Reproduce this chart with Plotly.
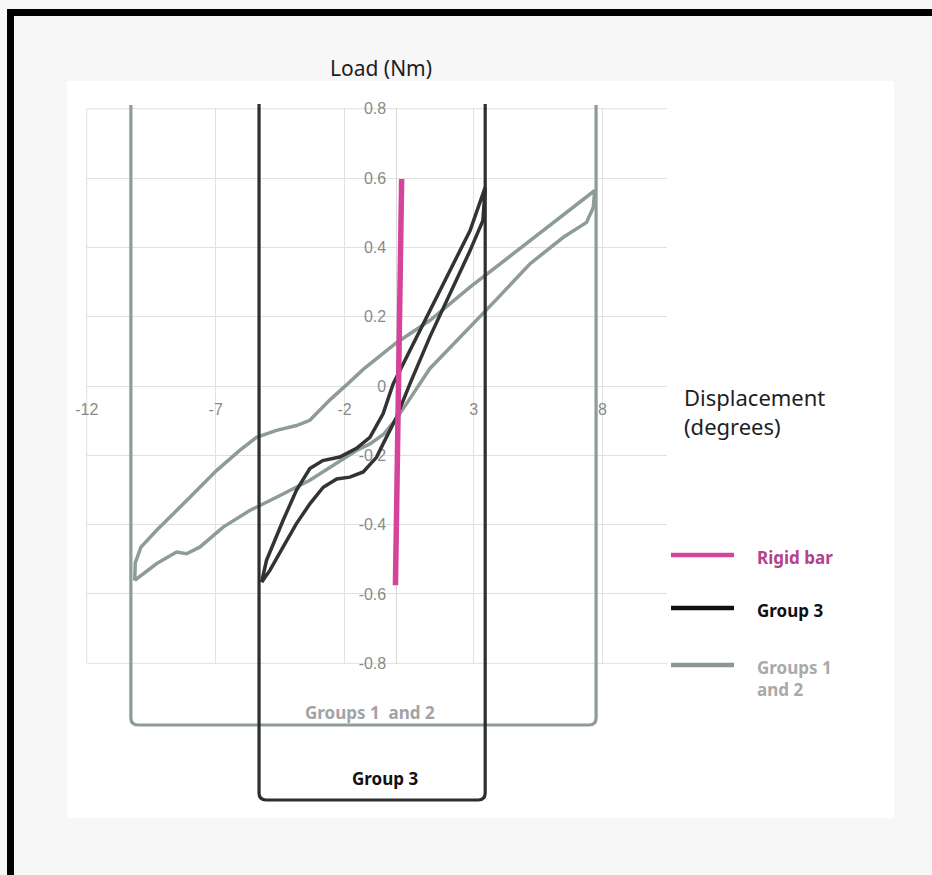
import plotly.graph_objects as go

# ---- data -------------------------------------------------------------
# Groups 1 and 2 hysteresis loop (displacement in degrees, load in Nm)
g12_up_x = [-10.14, -10.12, -9.90, -9.30, -8.00, -6.97, -6.07, -5.42, -4.64, -3.87,
            -3.35, -2.57, -1.80, -1.28, 0.01, 1.30, 2.86, 4.54, 6.22, 7.64, 7.70]
g12_up_y = [-0.561, -0.510, -0.465, -0.417, -0.321, -0.244, -0.186, -0.148, -0.128, -0.114,
            -0.099, -0.040, 0.012, 0.048, 0.125, 0.189, 0.285, 0.381, 0.477, 0.559, 0.564]
g12_dn_x = [7.70, 7.64, 7.38, 6.48, 5.18, 3.89, 2.60, 1.30, 0.50, 0.00, -0.50, -1.02,
            -1.54, -2.57, -3.35, -4.64, -5.68, -6.71, -7.62, -8.13, -8.52, -9.30, -10.14]
g12_dn_y = [0.564, 0.515, 0.472, 0.429, 0.352, 0.250, 0.150, 0.050, -0.040, -0.095, -0.140, -0.167,
            -0.186, -0.234, -0.272, -0.321, -0.359, -0.407, -0.465, -0.484, -0.479, -0.513, -0.561]

# Group 3 hysteresis loop
g3_up_x = [-5.22, -5.03, -4.39, -3.87, -3.35, -2.85, -2.19, -1.54, -1.02, -0.51,
           -0.12, 0.40, 1.30, 2.08, 2.86, 3.45]
g3_up_y = [-0.566, -0.503, -0.388, -0.301, -0.238, -0.215, -0.205, -0.180, -0.148, -0.080,
           0.006, 0.083, 0.218, 0.333, 0.448, 0.573]
g3_dn_x = [3.45, 3.40, 3.36, 2.86, 2.08, 1.30, 0.53, 0.01, -0.51, -0.76, -1.28, -1.80,
           -2.31, -2.83, -3.35, -3.87, -4.39, -4.90, -5.22]
g3_dn_y = [0.573, 0.520, 0.477, 0.390, 0.266, 0.141, 0.006, -0.090, -0.167, -0.205, -0.248, -0.263,
           -0.268, -0.292, -0.340, -0.397, -0.465, -0.532, -0.566]

# Rigid bar
rigid_x = [-0.03, 0.05, 0.09, 0.15, 0.21]
rigid_y = [-0.575, -0.20, 0.00, 0.30, 0.597]

series_names = ["Groups 1 and 2", "Group 3", "Rigid bar"]
series_colors = ["#8d9c96", "#333333", "#d6439b"]
series_widths = [3.5, 3.5, 5.5]

legend_labels = ["Rigid bar", "Group 3", "Groups 1<br>and 2"]
legend_colors = ["#d6439b", "#111111", "#8d9890"]
legend_text_colors = ["#b3428a", "#111111", "#a9a9a9"]

x_ticks = [-12, -7, -2, 3, 8]
y_ticks = [-0.8, -0.6, -0.4, -0.2, 0, 0.2, 0.4, 0.6, 0.8]
y_tick_text = ["-0.8", "-0.6", "-0.4", "-0.2", "0", "0.2", "0.4", "0.6", "0.8"]

X_RANGE = [-12.03, 10.5]
Y_RANGE = [-0.802, 0.802]

# ---- page geometry ------------------------------------------------------
W, H = 932, 875
L, R, T, B = 86, 265, 108, 211
PW, PH = W - L - R, H - T - B


def px_x(p):
    return (p - L) / PW


def px_y(p):
    return (H - B - p) / PH


def data_x(v):
    return (v - X_RANGE[0]) / (X_RANGE[1] - X_RANGE[0])


def data_y(v):
    return (v - Y_RANGE[0]) / (Y_RANGE[1] - Y_RANGE[0])


fig = go.Figure()

loops = [
    (g12_up_x + g12_dn_x[1:], g12_up_y + g12_dn_y[1:]),
    (g3_up_x + g3_dn_x[1:], g3_up_y + g3_dn_y[1:]),
    (rigid_x, rigid_y),
]
for (xs, ys), name, col, w in zip(loops, series_names, series_colors, series_widths):
    fig.add_trace(go.Scatter(x=xs, y=ys, mode="lines", name=name,
                             line=dict(color=col, width=w), showlegend=False))

grid = "#e0e0e0"
shapes = []
# light page with the white chart card and a heavy frame on top/left
shapes.append(dict(type="rect", xref="paper", yref="paper",
                   x0=px_x(67), x1=px_x(894), y0=px_y(818), y1=px_y(81),
                   fillcolor="white", line=dict(width=0), layer="below"))
shapes.append(dict(type="rect", xref="paper", yref="paper",
                   x0=px_x(10.5), x1=px_x(1200), y0=px_y(1200), y1=px_y(12.5),
                   fillcolor="rgba(0,0,0,0)", line=dict(color="black", width=7)))

# outermost grid lines at the ends of the tick ranges
for yv in (min(y_ticks), max(y_ticks)):
    shapes.append(dict(type="line", xref="paper", yref="y", x0=data_x(x_ticks[0]), x1=1,
                       y0=yv, y1=yv, line=dict(color=grid, width=1), layer="below"))
shapes.append(dict(type="line", xref="x", yref="paper", x0=x_ticks[0], x1=x_ticks[0],
                   y0=data_y(min(y_ticks)), y1=data_y(max(y_ticks)),
                   line=dict(color=grid, width=1), layer="below"))


def bracket(x0, x1, top_px, bot_px, color, rad=7):
    a, b = data_x(x0), data_x(x1)
    top, bot = px_y(top_px), px_y(bot_px)
    rx, ry = rad / PW, rad / PH
    path = (f"M {a},{top} L {a},{bot + ry} Q {a},{bot} {a + rx},{bot} "
            f"L {b - rx},{bot} Q {b},{bot} {b},{bot + ry} L {b},{top}")
    return dict(type="path", xref="paper", yref="paper", path=path,
                line=dict(color=color, width=3.2), layer="above")


all12 = g12_up_x + g12_dn_x
all3 = g3_up_x + g3_dn_x
shapes.append(bracket(min(all12) - 0.15, max(all12) + 0.05, 105, 725, "#8d9c96"))
shapes.append(bracket(min(all3) - 0.1, max(all3) + 0.0, 104, 800, "#2e2e2e"))

annotations = []
# legend drawn beside the plot
leg_y = [555, 608, 665]
for lab, lc, tc, yy in zip(legend_labels, legend_colors, legend_text_colors, leg_y):
    shapes.append(dict(type="line", xref="paper", yref="paper",
                       x0=px_x(671), x1=px_x(734), y0=px_y(yy), y1=px_y(yy),
                       line=dict(color=lc, width=4.5)))
    annotations.append(dict(xref="paper", yref="paper", x=px_x(755), y=px_y(yy - 11),
                            text=f"<b>{lab}</b>", showarrow=False, xanchor="left",
                            yanchor="top", align="left",
                            font=dict(family="Noto Sans", size=17, color=tc)))

annotations += [
    dict(xref="paper", yref="paper", x=px_x(381), y=px_y(68), text="Load (Nm)",
         showarrow=False, xanchor="center", yanchor="middle",
         font=dict(family="Noto Sans", size=21, color="#1e1e1e")),
    dict(xref="paper", yref="paper", x=px_x(682), y=px_y(380),
         text="Displacement<br>(degrees)", showarrow=False, xanchor="left",
         yanchor="top", align="left",
         font=dict(family="Noto Sans", size=22, color="#1e1e1e")),
    dict(xref="paper", yref="paper", x=px_x(370), y=px_y(712),
         text="<b>Groups 1  and 2</b>", showarrow=False, xanchor="center",
         yanchor="middle", font=dict(family="Noto Sans", size=17, color="#a3a3a3")),
    dict(xref="paper", yref="paper", x=px_x(385), y=px_y(778),
         text="<b>Group 3</b>", showarrow=False, xanchor="center",
         yanchor="middle", font=dict(family="Noto Sans", size=17, color="#111111")),
]

tick_font = dict(family="Liberation Sans Narrow, Arial Narrow, Liberation Sans", size=16,
                 color="#8a8a8a")

fig.update_layout(
    width=W, height=H,
    margin=dict(l=L, r=R, t=T, b=B, pad=0),
    paper_bgcolor="#f7f7f7",
    plot_bgcolor="white",
    shapes=shapes,
    annotations=annotations,
    xaxis=dict(range=X_RANGE, tickvals=x_ticks, ticktext=[str(v) for v in x_ticks],
               showgrid=True, gridcolor=grid, gridwidth=1,
               zeroline=True, zerolinecolor="#d8d8d8", zerolinewidth=1,
               showline=False, ticks="", anchor="free", position=data_y(0),
               ticklabelstandoff=12, tickfont=tick_font, layer="below traces",
               fixedrange=True),
    yaxis=dict(range=Y_RANGE, tickvals=y_ticks, ticktext=y_tick_text,
               showgrid=True, gridcolor=grid, gridwidth=1,
               zeroline=True, zerolinecolor=grid, zerolinewidth=1,
               showline=False, ticks="", anchor="free", position=data_x(0),
               ticklabelstandoff=10, tickfont=tick_font, layer="below traces",
               fixedrange=True),
    showlegend=False,
)

fig.write_html("out.html")
